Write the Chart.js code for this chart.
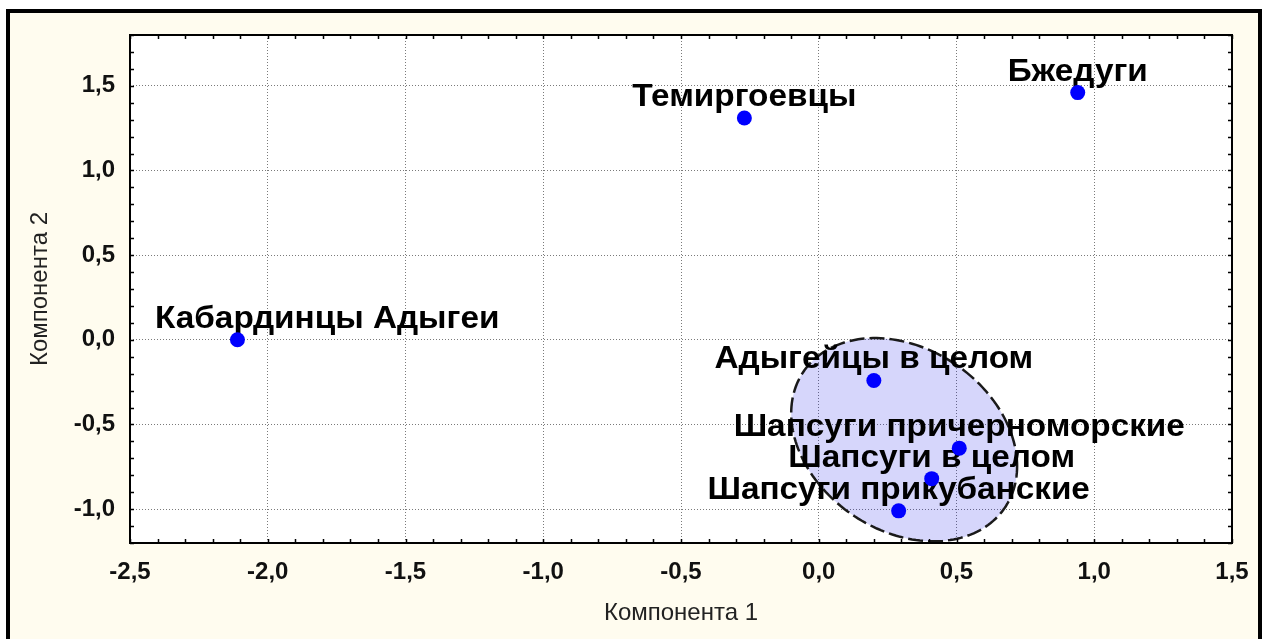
<!DOCTYPE html>
<html>
<head>
<meta charset="utf-8">
<script src="https://cdn.jsdelivr.net/npm/chart.js@4/dist/chart.umd.min.js"></script>
<style>
  html, body { margin: 0; padding: 0; background: #ffffff; }
  canvas { display: block; }
</style>
</head>
<body>
<canvas id="pca" width="1266" height="639"></canvas>
<script>
// Ethnic groups placed on the first two principal components
const groups = [
  'Кабардинцы Адыгеи',
  'Темиргоевцы',
  'Бжедуги',
  'Адыгейцы в целом',
  'Шапсуги причерноморские',
  'Шапсуги в целом',
  'Шапсуги прикубанские'
];
const comp1 = [-2.11, -0.27, 0.94, 0.20, 0.51, 0.41, 0.29];
const comp2 = [0.00, 1.31, 1.46, -0.24, -0.64, -0.82, -1.01];

// Axis ticks (major, labelled)
const xTickValues = [-2.5, -2.0, -1.5, -1.0, -0.5, 0.0, 0.5, 1.0, 1.5];
const yTickValues = [-1.0, -0.5, 0.0, 0.5, 1.0, 1.5];

// Cluster ellipse around the Adyghe / Shapsug group, in component units
const clusterCentre = [0.31, -0.59];
const clusterHalfSpan = [0.41, 0.60];
const clusterCorrelation = -0.26;

const FONT = '"Liberation Sans", Arial, sans-serif';
const fmt = v => v.toFixed(1).replace('.', ',');

// Cream panel with a heavy black frame, white plotting area
const backdrop = {
  id: 'backdrop',
  beforeDraw(chart) {
    const { ctx, chartArea: a, width, height } = chart;
    ctx.save();
    ctx.fillStyle = '#ffffff';
    ctx.fillRect(0, 0, width, height);
    ctx.fillStyle = '#fffcef';
    ctx.fillRect(8, 11, width - 14, height);
    ctx.fillStyle = '#ffffff';
    ctx.fillRect(a.left, a.top, a.right - a.left, a.bottom - a.top);
    ctx.restore();
  },
  afterDraw(chart) {
    const { ctx, chartArea: a, width, height, scales: { x, y } } = chart;
    ctx.save();
    // outer frame
    ctx.strokeStyle = '#000000';
    ctx.lineWidth = 4;
    ctx.strokeRect(8, 11, width - 14, height + 20);
    // plot frame
    ctx.lineWidth = 2;
    ctx.strokeRect(a.left, a.top, a.right - a.left, a.bottom - a.top);
    // inward minor ticks every 0.1
    ctx.lineWidth = 1.5;
    ctx.beginPath();
    for (let i = Math.round(x.min * 10); i <= Math.round(x.max * 10); i++) {
      const px = Math.round(x.getPixelForValue(i / 10)) + 0.5;
      ctx.moveTo(px, a.bottom); ctx.lineTo(px, a.bottom - 4);
      ctx.moveTo(px, a.top); ctx.lineTo(px, a.top + 4);
    }
    for (let i = Math.round(y.min * 10); i <= Math.round(y.max * 10); i++) {
      const py = Math.round(y.getPixelForValue(i / 10)) + 0.5;
      ctx.moveTo(a.left, py); ctx.lineTo(a.left + 4, py);
      ctx.moveTo(a.right, py); ctx.lineTo(a.right - 4, py);
    }
    ctx.stroke();
    ctx.restore();
  }
};

// Shaded dashed ellipse and the group names
const overlay = {
  id: 'overlay',
  beforeDatasetsDraw(chart) {
    const { ctx, chartArea: a, scales: { x, y } } = chart;
    ctx.save();
    ctx.beginPath();
    const r = clusterCorrelation, s = Math.sqrt(1 - r * r);
    for (let k = 0; k <= 180; k++) {
      const t = (k / 180) * Math.PI * 2;
      const vx = clusterCentre[0] + clusterHalfSpan[0] * Math.cos(t);
      const vy = clusterCentre[1] + clusterHalfSpan[1] * (r * Math.cos(t) + s * Math.sin(t));
      const px = x.getPixelForValue(vx), py = y.getPixelForValue(vy);
      if (k === 0) ctx.moveTo(px, py); else ctx.lineTo(px, py);
    }
    ctx.closePath();
    ctx.fillStyle = 'rgba(0, 0, 230, 0.16)';
    ctx.fill();
    ctx.setLineDash([15, 5]);
    ctx.lineWidth = 2.5;
    ctx.strokeStyle = '#1a1a1a';
    ctx.stroke();
    ctx.setLineDash([]);

    // group names, slightly widened, centred over each point
    const widen = 1.075;
    ctx.font = 'bold 31px ' + FONT;
    ctx.fillStyle = '#000000';
    ctx.textBaseline = 'alphabetic';
    ctx.textAlign = 'left';
    groups.forEach((name, i) => {
      const px = x.getPixelForValue(comp1[i]);
      const py = y.getPixelForValue(comp2[i]);
      const w = ctx.measureText(name).width * widen;
      let left = px - w / 2;
      left = Math.max(left, a.left + 25);
      left = Math.min(left, a.right - 25 - w);
      ctx.save();
      ctx.translate(left, py - 12);
      ctx.scale(widen, 1);
      ctx.fillText(name, 0, 0);
      ctx.restore();
    });
    ctx.restore();
  }
};

new Chart(document.getElementById('pca'), {
  type: 'scatter',
  data: {
    datasets: [{
      data: groups.map((g, i) => ({ x: comp1[i], y: comp2[i] })),
      backgroundColor: '#0000ff',
      borderColor: '#0000ff',
      borderWidth: 0,
      pointRadius: 7.5,
      pointHoverRadius: 7.5
    }]
  },
  options: {
    responsive: false,
    animation: false,
    events: [],
    layout: { padding: { left: 10, right: 34, top: 35, bottom: 0 } },
    plugins: { legend: { display: false }, tooltip: { enabled: false } },
    scales: {
      x: {
        type: 'linear',
        min: -2.5, max: 1.5,
        afterBuildTicks: s => { s.ticks = xTickValues.map(v => ({ value: v })); },
        afterFit: s => { s.height = 96; },
        grid: { color: '#7a7a7a', lineWidth: 1, drawTicks: false },
        border: { display: false, dash: [1, 2] },
        ticks: {
          padding: 15,
          color: '#111111',
          font: { family: FONT, size: 24, weight: 'bold' },
          callback: v => fmt(v),
          maxRotation: 0, autoSkip: false
        },
        title: {
          display: true, text: 'Компонента 1',
          color: '#222222',
          font: { family: FONT, size: 24 },
          padding: { top: 0, bottom: 11 }
        }
      },
      y: {
        type: 'linear',
        min: -1.2, max: 1.8,
        afterBuildTicks: s => { s.ticks = yTickValues.map(v => ({ value: v })); },
        afterFit: s => { s.width = 120; },
        grid: { color: '#7a7a7a', lineWidth: 1, drawTicks: false },
        border: { display: false, dash: [1, 2] },
        ticks: {
          padding: 15,
          color: '#111111',
          font: { family: FONT, size: 24, weight: 'bold' },
          callback: v => fmt(v),
          autoSkip: false
        },
        title: {
          display: true, text: 'Компонента 2',
          color: '#222222',
          font: { family: FONT, size: 24 },
          padding: { top: 16, bottom: 0 }
        }
      }
    }
  },
  plugins: [backdrop, overlay]
});
</script>
</body>
</html>
